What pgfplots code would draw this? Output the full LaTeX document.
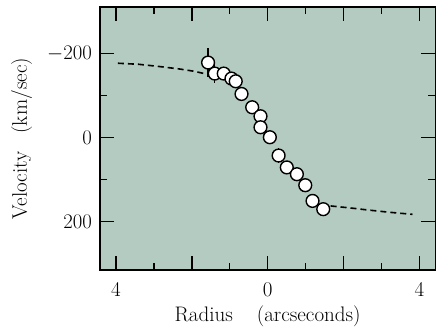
\documentclass[border=0pt]{standalone}
\usepackage{pgfplots}
\pgfplotsset{compat=1.18}
\definecolor{bg}{RGB}{179,203,193}
\begin{document}
\fontsize{21}{25}\selectfont
\begin{tikzpicture}
\begin{axis}[
  scale only axis, width=335pt, height=263pt,
  xmin=-4.42, xmax=4.42, ymin=-311, ymax=316, y dir=reverse,
  axis background/.style={fill=bg},
  axis line style={line width=1.5pt},
  xtick={-4,-2,0,2,4}, xticklabels={4,,0,,4},
  ytick={-200,0,200}, yticklabels={$-200$,$0$,$200$},
  minor xtick={-3,-1,1,3}, minor ytick={-100,100},
  tick align=inside, major tick length=14pt, minor tick length=7pt,
  every tick/.style={line width=1.4pt, black},
  ticklabel style={font=\fontsize{21}{25}\selectfont},
  xticklabel style={yshift=-5pt},
  yticklabel style={xshift=-1pt},
  xlabel={Radius\hspace{24pt}(arcseconds)},
  ylabel={Velocity\hspace{18pt}(km/sec)},
  label style={font=\fontsize{21}{25}\selectfont},
  xlabel style={at={(axis description cs:0.5,-0.1966)}, anchor=base},
  ylabel style={at={(axis description cs:-0.218,0.5)}, anchor=base, rotate=0},
  clip=false,
]
% dashed model curves
\addplot[black, line width=1.6pt, dash pattern=on 6pt off 4pt] coordinates {
  (-3.95,-177) (-3.4,-174.5) (-2.84,-169) (-2.3,-163) (-1.95,-158) (-1.6,-151)
};
\addplot[black, line width=1.6pt, dash pattern=on 6pt off 4pt] coordinates {
  (1.66,163) (2.2,168) (2.63,172.5) (3.2,178) (3.82,183)
};
% error bars
\addplot[black, line width=1.3pt, only marks, mark=none,
  error bars/.cd, y dir=both, y explicit, error mark=none,
  error bar style={line width=1.3pt}] coordinates {
  (-1.571,-178.6) +- (0,34)
  (-1.395,-152.4) +- (0,22)
  (-0.408,-72.1) +- (0,17)
  (0.289,42.9) +- (0,18)
  (1.184,151) +- (0,16)
};
% data points
\addplot[only marks, mark=*, mark size=6.4pt,
  mark options={fill=white, draw=black, line width=1.4pt}] coordinates {
  (-1.571,-178.6) (-1.395,-152.4) (-1.158,-152.4) (-0.955,-140.5)
  (-0.842,-134) (-0.689,-103.8) (-0.408,-72.1) (-0.189,-50.7)
  (-0.189,-24.5) (0.058,-0.7) (0.289,42.9) (0.505,71.2)
  (0.771,87.4) (0.992,113.6) (1.184,151) (1.466,170.7)
};
\end{axis}
\path ([xshift=-100pt,yshift=-57pt]current axis.south west) rectangle ([xshift=0.5pt,yshift=7pt]current axis.north east);
\end{tikzpicture}
\end{document}
